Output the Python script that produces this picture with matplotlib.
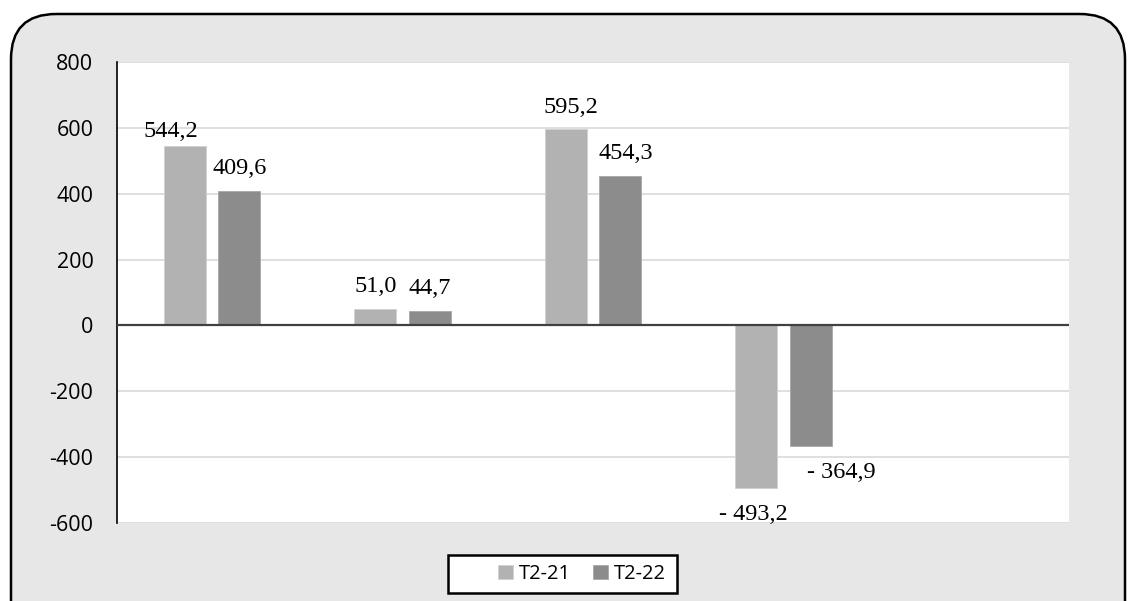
import numpy as np
import matplotlib as mpl
import matplotlib.pyplot as plt
from matplotlib.patches import FancyBboxPatch, Rectangle

categories = ["A", "B", "C", "D", "E"]
t2_21 = [544.2, 51.0, 595.2, -493.2, np.nan]
t2_22 = [409.6, 44.7, 454.3, -364.9, np.nan]
series_names = ["T2-21", "T2-22"]
yticks = [-600, -400, -200, 0, 200, 400, 600, 800]

# label nudges in points (Excel-style manual placement)
nudge_21 = [(-10, 7), (0, 12), (4, 12), (-2, -12), (0, 0)]
nudge_22 = [(0, 12), (0, 12), (4, 12), (22, -12), (0, 0)]

W, H = 1129, 601
fig = plt.figure(figsize=(W / 100, H / 100), dpi=100)
fig.patch.set_facecolor("white")

# rounded frame with grey fill
frame = FancyBboxPatch((11 / W, -0.1), (1125 - 11) / W, (H - 14) / H + 0.1,
                       boxstyle="round,pad=0,rounding_size=0.04",
                       transform=fig.transFigure, facecolor="#e7e7e7",
                       edgecolor="black", linewidth=1.8, mutation_aspect=W / H,
                       zorder=-10)
fig.patches.append(frame)

ax = fig.add_axes([117 / W, 1 - 523 / H, (1069 - 117) / W, (523 - 62) / H])
ax.set_facecolor("white")

x = np.arange(len(categories))
bw = 0.22
off = 0.143
light, dark = "#b2b2b2", "#8c8c8c"
b1 = ax.bar(x - off, t2_21, bw, color=light, edgecolor="#d0d0d0", linewidth=0.6, zorder=2, label=series_names[0])
b2 = ax.bar(x + off, t2_22, bw, color=dark, edgecolor="#a8a8a8", linewidth=0.6, zorder=2, label=series_names[1])

ax.set_xlim(-0.5, len(categories) - 0.5)
ax.set_ylim(-600, 800)
ax.set_yticks(yticks)
ax.set_yticklabels([str(v) for v in yticks], fontsize=15.5, family="Open Sans")
ax.set_xticks([])
ax.yaxis.grid(True, color="#d9d9d9", linewidth=1.2, zorder=0)
ax.set_axisbelow(True)
ax.axhline(0, color="#404040", linewidth=1.6, zorder=3)
for s in ["top", "right", "bottom"]:
    ax.spines[s].set_visible(False)
ax.spines["left"].set_color("black")
ax.spines["left"].set_linewidth(1.2)
ax.tick_params(axis="y", length=0, pad=17)

def fmt(v):
    s = f"{abs(v):.1f}".replace(".", ",")
    return ("- " + s) if v < 0 else s

for bars, vals, nudges in [(b1, t2_21, nudge_21), (b2, t2_22, nudge_22)]:
    for rect, v, (dx, dy) in zip(bars, vals, nudges):
        if np.isnan(v):
            continue
        cx = rect.get_x() + rect.get_width() / 2
        ax.annotate(fmt(v), (cx, v), xytext=(dx, dy), textcoords="offset points",
                    ha="center", va="baseline" if v >= 0 else "top",
                    fontsize=17.5, family="Liberation Serif")

# legend box (Excel style, drawn separately)
box = Rectangle((448 / W, 1 - 593 / H), (677 - 448) / W, (593 - 555) / H,
                transform=fig.transFigure, facecolor="white", edgecolor="black",
                linewidth=1.8, zorder=5)
fig.patches.append(box)
leg = fig.legend(handles=[b1, b2], labels=series_names, loc="center",
                 bbox_to_anchor=(582 / W, 1 - 574 / H), ncol=2, frameon=False,
                 prop={"family": "Open Sans", "size": 14.5},
                 handlelength=0.75, handleheight=0.75, handletextpad=0.3,
                 columnspacing=1.1)
leg.set_zorder(6)

fig.savefig("out.png", dpi=100)
